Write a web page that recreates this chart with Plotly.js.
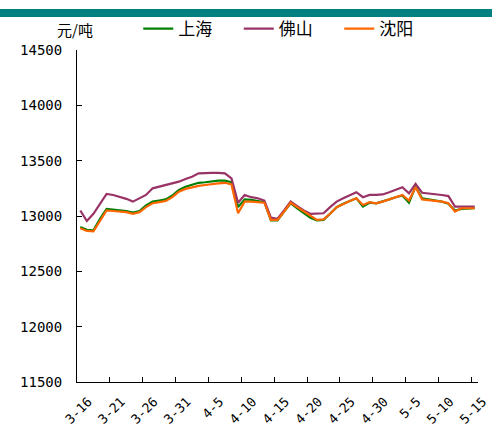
<!DOCTYPE html>
<html>
<head>
<meta charset="utf-8">
<script src="https://cdn.plot.ly/plotly-3.0.1.min.js"></script>
<style>
html,body{margin:0;padding:0;background:#fff;}
#wrap{position:relative;width:492px;height:435px;}
#bar{position:absolute;left:0;top:9px;width:492px;height:8px;background:#008080;z-index:5;}
#chart{position:absolute;left:0;top:0;width:492px;height:435px;}
</style>
</head>
<body>
<div id="wrap"><div id="chart"></div><div id="bar"></div></div>
<script>
// dates: 3-16 .. 5-15 (daily)
const tickLabels = ["3-16","3-21","3-26","3-31","4-5","4-10","4-15","4-20","4-25","4-30","5-5","5-10","5-15"];
const shanghai = [12900,12875,12870,12975,13065,13060,13055,13045,13030,13045,
  13095,13130,13140,13150,13185,13235,13265,13285,13300,13305,
  13315,13320,13320,13305,13080,13150,13145,13135,13125,12960,
  12960,13040,13115,13070,13030,12985,12960,12965,13020,13080,
  13110,13135,13160,13085,13120,13115,13130,13150,13170,13185,
  13120,13265,13160,13150,13145,13130,13110,13050,13065,13070,13070];
const foshan = [13050,12955,13020,13110,13200,13190,13175,13155,13130,13160,
  13190,13250,13265,13275,13290,13310,13335,13355,13385,13390,
  13390,13390,13385,13340,13120,13190,13170,13160,13140,12985,
  12975,13050,13130,13090,13050,13020,13020,13025,13080,13130,
  13160,13190,13215,13170,13190,13190,13195,13215,13240,13260,
  13205,13290,13210,13205,13200,13190,13180,13085,13085,13085,13085];
const shenyang = [12890,12865,12862,12960,13050,13045,13040,13035,13020,13035,
  13080,13115,13125,13135,13170,13220,13245,13262,13272,13280,
  13290,13295,13300,13285,13025,13130,13130,13125,13120,12965,
  12965,13040,13120,13080,13040,13000,12965,12970,13020,13080,
  13110,13135,13160,13100,13125,13115,13130,13150,13170,13190,
  13140,13260,13150,13145,13140,13130,13115,13040,13070,13070,13070];

const idx = shanghai.map((_, i) => i);
const labelPos = tickLabels.map((_, k) => k * 5);
const boundaryPos = tickLabels.slice(1).map((_, k) => k * 5 + 4.5);
const xr = [-0.5, 60.5];

const mk = (name, y, color) => ({
  type: 'scatter', mode: 'lines', name: name, x: idx, y: y,
  line: {color: color, width: 2.2}, hoverinfo: 'skip'
});

const data = [
  mk('上海', shanghai, '#008000'),
  mk('佛山', foshan, '#993366'),
  mk('沈阳', shenyang, '#FF6600')
];

const tickFont = {family: 'DejaVu Sans Mono, monospace', size: 14, color: '#000'};

const layout = {
  width: 492, height: 435,
  margin: {l: 77, r: 14, t: 50, b: 53},
  paper_bgcolor: '#fff', plot_bgcolor: '#fff',
  showlegend: true,
  legend: {
    orientation: 'h', xref: 'container', yref: 'container',
    x: 0.281, y: 1 - 29/435, xanchor: 'left', yanchor: 'middle',
    font: {family: 'Noto Sans CJK SC', size: 17, color: '#000'},
    entrywidth: 55.5, entrywidthmode: 'pixels',
    bgcolor: 'rgba(0,0,0,0)', borderwidth: 0, traceorder: 'normal'
  },
  xaxis: {
    range: xr, showgrid: false, zeroline: false,
    showline: true, linecolor: '#000', linewidth: 1,
    tickmode: 'array', tickvals: labelPos, ticktext: tickLabels,
    ticks: '', tickangle: -45, tickfont: {family: 'DejaVu Sans Mono, monospace', size: 13, color: '#000'},
    ticklabelshift: 8, ticklabelstandoff: 6, ticklabeloverflow: 'allow',
    minor: {tickmode: 'array', tickvals: boundaryPos, ticks: 'inside', ticklen: 5, tickcolor: '#000', tickwidth: 1, showgrid: false}
  },
  yaxis: {
    range: [11500, 14500], tickmode: 'linear', tick0: 11500, dtick: 500, tickformat: 'd',
    showgrid: false, zeroline: false, showline: true, linecolor: '#000', linewidth: 1,
    ticks: 'inside', ticklen: 5, tickcolor: '#000',
    tickfont: tickFont, ticklabelstandoff: 11
  },
  annotations: [{
    xref: 'paper', yref: 'paper', x: (75 - 77) / 401, y: (382 - 29) / 332,
    text: '元/吨', showarrow: false, xanchor: 'center', yanchor: 'middle',
    font: {family: 'Noto Sans CJK SC', size: 15, color: '#000'}
  }]
};

Plotly.newPlot('chart', data, layout, {staticPlot: true, displayModeBar: false});
</script>
</body>
</html>
